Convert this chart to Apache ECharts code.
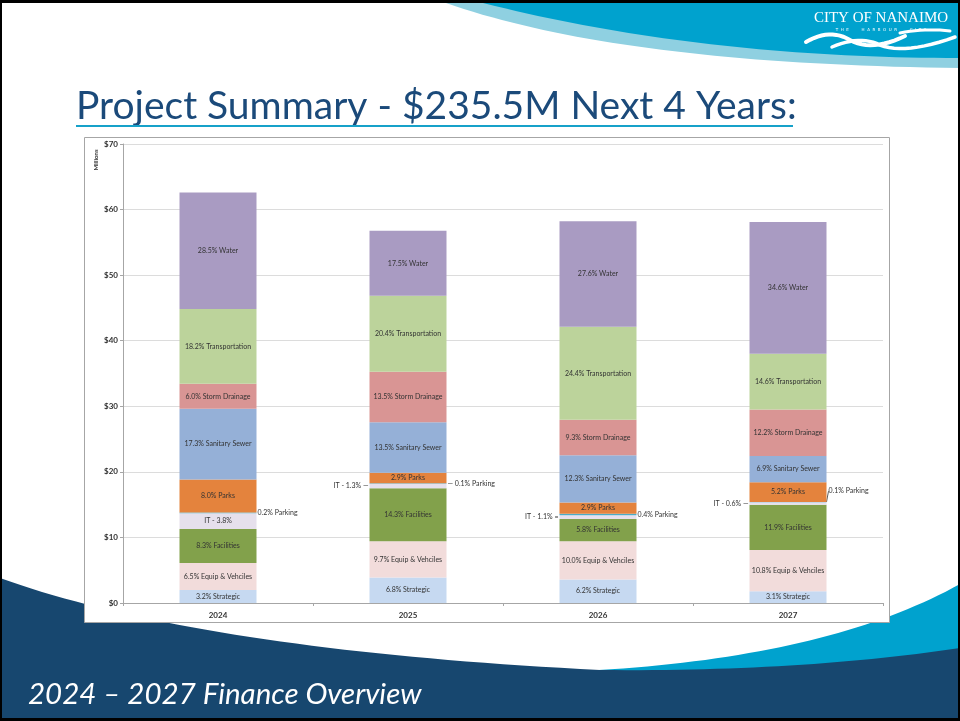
<!DOCTYPE html>
<html>
<head>
<meta charset="utf-8">
<title>Project Summary</title>
<script src="https://cdn.jsdelivr.net/npm/echarts@6/dist/echarts.min.js"></script>
<style>
  html, body { margin: 0; padding: 0; background: #fff; }
  #main { width: 960px; height: 721px; }
</style>
</head>
<body>
<div id="main"></div>
<script>
// values in $ millions; percent labels as printed
const years = ['2024', '2025', '2026', '2027'];

const strategic = [2.0, 3.9, 3.6, 1.8];
const equipVehicles = [4.1, 5.5, 5.8, 6.3];
const facilities = [5.2, 8.1, 3.4, 6.9];
const it = [2.4, 0.7, 0.6, 0.35];
const parking = [0.12, 0.06, 0.23, 0.06];
const parks = [5.0, 1.6, 1.7, 3.0];
const sanitarySewer = [10.8, 7.7, 7.2, 4.0];
const stormDrainage = [3.8, 7.7, 5.4, 7.1];
const transportation = [11.4, 11.6, 14.2, 8.5];
const water = [17.8, 9.9, 16.1, 20.1];

const strategicPct = ['3.2', '6.8', '6.2', '3.1'];
const equipPct = ['6.5', '9.7', '10.0', '10.8'];
const facilitiesPct = ['8.3', '14.3', '5.8', '11.9'];
const itPct = ['3.8', '1.3', '1.1', '0.6'];
const parkingPct = ['0.2', '0.1', '0.4', '0.1'];
const parksPct = ['8.0', '2.9', '2.9', '5.2'];
const sanitaryPct = ['17.3', '13.5', '12.3', '6.9'];
const stormPct = ['6.0', '13.5', '9.3', '12.2'];
const transportPct = ['18.2', '20.4', '24.4', '14.6'];
const waterPct = ['28.5', '17.5', '27.6', '34.6'];

const yTicks = [0, 10, 20, 30, 40, 50, 60, 70];

const labelFont = 'Lato';
const labelColor = '#333333';

const chart = echarts.init(document.getElementById('main'));

function quad(p0, c, p1, n) {
  const pts = [];
  for (let i = 0; i <= n; i++) {
    const t = i / n, a = (1 - t) * (1 - t), b = 2 * t * (1 - t), d = t * t;
    pts.push([a * p0[0] + b * c[0] + d * p1[0], a * p0[1] + b * c[1] + d * p1[1]]);
  }
  return pts;
}

function makeSeries(name, values, pct, color, text) {
  return {
    name: name,
    type: 'bar',
    stack: 'total',
    barWidth: 77,
    itemStyle: { color: color },
    label: {
      show: true,
      position: 'inside',
      fontSize: 7,
      fontFamily: labelFont,
      color: labelColor,
      formatter: (p) => text(pct[p.dataIndex])
    },
    data: values.slice()
  };
}

const itSeries = makeSeries('IT', it, itPct, '#E6E0EC', (v) => 'IT - ' + v + '%');
itSeries.data = it.map((v, i) => {
  if (i === 0) return v;
  return {
    value: v,
    label: {
      position: 'left',
      distance: 1,
      formatter: 'IT - ' + itPct[i] + '% ' + (i === 2 ? '=' : '\u2014')
    }
  };
});

const parkingSeries = makeSeries('Parking', parking, parkingPct, '#4BACC6', (v) => v + '% Parking');
const parkingOffsets = [[-3, 0], [0, 1], [-5, -3], [0, 0]];
parkingSeries.data = parking.map((v, i) => ({
  value: v,
  label: {
    position: 'right',
    distance: 1,
    offset: parkingOffsets[i],
    formatter: (i === 1 ? '\u2014 ' : '') + parkingPct[i] + '% Parking'
  },
  labelLine: { show: i === 3, lineStyle: { color: '#333', width: 0.8 } }
}));
parkingSeries.labelLayout = (p) => (p.dataIndex === 3 ? { dx: 1, dy: -11 } : {});

const series = [
  makeSeries('Strategic', strategic, strategicPct, '#C6D9F1', (v) => v + '% Strategic'),
  makeSeries('Equip & Vehciles', equipVehicles, equipPct, '#F2DCDB', (v) => v + '% Equip & Vehciles'),
  makeSeries('Facilities', facilities, facilitiesPct, '#82A14B', (v) => v + '% Facilities'),
  itSeries,
  parkingSeries,
  makeSeries('Parks', parks, parksPct, '#E4833D', (v) => v + '% Parks'),
  makeSeries('Sanitary Sewer', sanitarySewer, sanitaryPct, '#95B0D7', (v) => v + '% Sanitary Sewer'),
  makeSeries('Storm Drainage', stormDrainage, stormPct, '#D99594', (v) => v + '% Storm Drainage'),
  makeSeries('Transportation', transportation, transportPct, '#BCD39B', (v) => v + '% Transportation'),
  makeSeries('Water', water, waterPct, '#A99BC2', (v) => v + '% Water')
];

// slide decoration
const topLight = [[446, 0]].concat(quad([446, 3], [620, 64], [960, 68], 40), [[960, 0]]);
const topDark = [[483, 0]].concat(quad([483, 3], [700, 58], [960, 58], 40), [[960, 0]]);
const bottomCyan = quad([560, 672], [820, 662], [960, 584], 40).concat([[960, 721], [560, 721]]);
const bottomNavy = quad([0, 578], [200, 650], [600, 670], 40)
  .concat(quad([600, 670], [800, 672], [960, 648], 30), [[960, 721], [0, 721]]);

const graphics = [
  { type: 'polygon', z: -10, shape: { points: topLight }, style: { fill: '#8FD0E1' } },
  { type: 'polygon', z: -9, shape: { points: topDark }, style: { fill: '#00A2CE' } },
  { type: 'polygon', z: -10, shape: { points: bottomCyan }, style: { fill: '#00A2CE' } },
  { type: 'polygon', z: -9, shape: { points: bottomNavy }, style: { fill: '#17476F' } },
  // chart frame
  { type: 'rect', z: -5, shape: { x: 84.5, y: 137.5, width: 805, height: 485 },
    style: { fill: '#fff', stroke: '#A6A6A6', lineWidth: 1 } },
  // slide border
  { type: 'rect', z: 50, shape: { x: 0, y: 0, width: 960, height: 3 }, style: { fill: '#000' } },
  { type: 'rect', z: 50, shape: { x: 0, y: 0, width: 2, height: 721 }, style: { fill: '#000' } },
  { type: 'rect', z: 50, shape: { x: 958, y: 0, width: 2, height: 721 }, style: { fill: '#000' } },
  { type: 'rect', z: 50, shape: { x: 0, y: 718, width: 960, height: 3 }, style: { fill: '#000' } },
  // logo
  { type: 'text', z: 20, x: 881, y: 18, style: {
      text: 'CITY OF NANAIMO', fill: '#fff', font: '15px "Liberation Serif"',
      align: 'center', verticalAlign: 'middle' } },
  { type: 'text', z: 20, x: 881, y: 30, style: {
      text: 'T  H  E          H  A  R  B  O  U  R          C  I  T  Y', fill: '#fff',
      font: '4px "DejaVu Sans"', align: 'center', verticalAlign: 'middle' } },
  { type: 'polyline', z: 20, shape: { points: quad([806, 42], [830, 28], [850, 40], 12)
      .concat(quad([850, 40], [872, 52], [905, 36], 12)) },
    style: { stroke: '#fff', lineWidth: 4, fill: null, lineCap: 'round' } },
  { type: 'polyline', z: 20, shape: { points: quad([832, 47], [860, 35], [880, 45], 12)
      .concat(quad([880, 45], [905, 55], [955, 37], 12)) },
    style: { stroke: '#fff', lineWidth: 3.5, fill: null, lineCap: 'round' } },
  { type: 'polyline', z: 20, shape: { points: quad([900, 33], [925, 28], [950, 31], 10) },
    style: { stroke: '#fff', lineWidth: 3, fill: null, lineCap: 'round' } },
  // title
  { type: 'text', z: 20, x: 76, y: 106, style: {
      text: 'Project Summary - $235.5M Next 4 Years:', fill: '#1B4A7A',
      font: '39px Lato', verticalAlign: 'middle' } },
  { type: 'rect', z: 20, shape: { x: 76, y: 125, width: 717, height: 2 }, style: { fill: '#16A1C9' } },
  // footer
  { type: 'text', z: 20, x: 28, y: 694, style: {
      text: '2024 \u2013 2027 Finance Overview', fill: '#fff',
      font: 'italic 29.5px Lato', verticalAlign: 'middle' } },
  // axis unit
  { type: 'text', z: 20, x: 96, y: 160, rotation: Math.PI / 2, style: {
      text: 'Millions', fill: '#333', font: 'bold 6px Lato',
      align: 'center', verticalAlign: 'middle' } }
];

const option = {
  animation: false,
  backgroundColor: '#fff',
  grid: { left: 123, right: 77, top: 144, bottom: 118 },
  xAxis: {
    type: 'category',
    data: years,
    axisLine: { lineStyle: { color: '#A6A6A6' } },
    axisTick: { show: true, length: 3, lineStyle: { color: '#A6A6A6' } },
    axisLabel: { fontSize: 8, fontWeight: 'bold', fontFamily: labelFont, color: '#333', margin: 8 }
  },
  yAxis: {
    type: 'value',
    min: yTicks[0],
    max: yTicks[yTicks.length - 1],
    interval: 10,
    axisLine: { show: true, lineStyle: { color: '#A6A6A6' } },
    axisTick: { show: true, length: 3, lineStyle: { color: '#A6A6A6' } },
    axisLabel: { fontSize: 8, fontWeight: 'bold', fontFamily: labelFont, color: '#333', margin: 5,
      formatter: (v) => '$' + v },
    splitLine: { lineStyle: { color: '#DCDCDC' } }
  },
  graphic: { elements: graphics },
  series: series
};

chart.setOption(option);
</script>
</body>
</html>
